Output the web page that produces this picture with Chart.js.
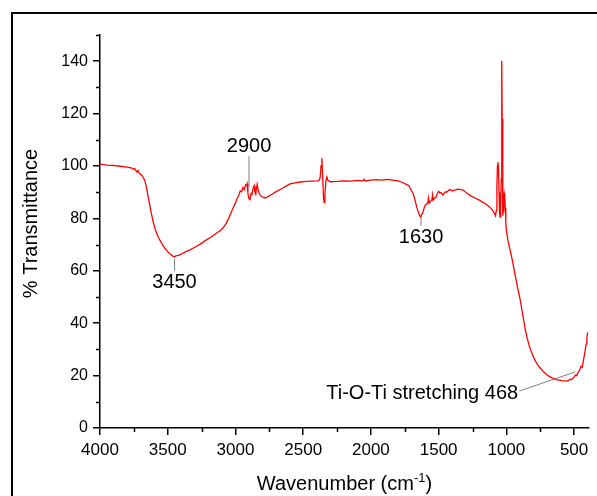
<!DOCTYPE html>
<html>
<head>
<meta charset="utf-8">
<script src="https://cdn.jsdelivr.net/npm/chart.js@4"></script>
<style>
  html, body { margin: 0; padding: 0; background: #fff; overflow: hidden; }
  #frame { position: absolute; left: 11px; top: 12px; width: 700px; height: 700px; border: 2.5px solid #000; }
  #wrap { position: absolute; left: 0; top: 0; width: 597px; height: 496px; }
</style>
</head>
<body>
<div id="frame"></div>
<div id="wrap"><canvas id="ftir"></canvas></div>
<script>
// wavenumber (cm-1) and % transmittance
const wavenumber = [
  4000, 3950, 3900, 3850, 3800, 3770, 3756, 3745, 3735, 3727, 3720, 3710, 3700, 3690, 3682, 3670, 3660, 3653,
  3640, 3625, 3609, 3590, 3570, 3542, 3520, 3500, 3480, 3461, 3450, 3440, 3420, 3400, 3370, 3335, 3300, 3260,
  3220, 3180, 3140, 3110, 3092, 3070, 3050, 3030, 3010, 2995, 2985, 2975, 2965, 2955, 2945, 2935, 2925, 2918,
  2914, 2908, 2900, 2892, 2885, 2878, 2870, 2862, 2856, 2850, 2845, 2840, 2833, 2825, 2812, 2796, 2780, 2760,
  2730, 2700, 2660, 2620, 2597, 2560, 2520, 2480, 2440, 2400, 2385, 2375, 2368, 2362, 2357, 2350, 2345, 2340,
  2332, 2325, 2318, 2300, 2250, 2200, 2150, 2100, 2060, 2050, 2040, 2000, 1960, 1920, 1880, 1840, 1800, 1770,
  1740, 1720, 1700, 1690, 1680, 1670, 1660, 1650, 1640, 1632, 1625, 1618, 1610, 1600, 1590, 1580, 1575, 1570,
  1560, 1550, 1545, 1540, 1530, 1520, 1510, 1500, 1490, 1480, 1470, 1460, 1450, 1440, 1430, 1420, 1410, 1400,
  1380, 1360, 1340, 1320, 1300, 1280, 1260, 1240, 1220, 1200, 1180, 1160, 1140, 1120, 1100, 1090, 1080, 1075,
  1070, 1066, 1062, 1058, 1054, 1050, 1046, 1042, 1038, 1035, 1033, 1031, 1028, 1025, 1022, 1019, 1016, 1012,
  1008, 1004, 1000, 990, 975, 960, 945, 930, 915, 900, 885, 870, 860, 845, 830, 810, 790, 770,
  750, 730, 710, 690, 670, 650, 630, 610, 590, 570, 555, 540, 530, 520, 510, 500, 490, 480,
  470, 460, 450, 440, 432, 425, 418, 412, 406, 400
];
const transmittance = [
  100.7, 100.3, 100.2, 99.9, 99.6, 99.3, 98.8, 99.0, 98.2, 97.7, 98.3, 97.2, 96.8, 96.4, 95.8, 94.5, 92.5, 90.8,
  87.0, 83.0, 79.0, 75.5, 72.8, 70.3, 68.5, 67.3, 66.3, 65.6, 65.3, 65.7, 65.9, 66.4, 67.2, 68.0, 69.0, 70.2,
  71.6, 72.9, 74.3, 75.5, 76.3, 78.0, 80.0, 82.5, 84.8, 86.5, 88.0, 88.8, 90.5, 90.2, 91.8, 91.0, 92.8, 92.5,
  93.2, 89.5, 87.5, 87.2, 89.5, 89.2, 91.5, 92.5, 90.0, 89.2, 91.5, 93.0, 91.0, 89.5, 88.5, 88.0, 87.8, 88.3,
  89.2, 90.2, 91.3, 92.5, 93.2, 93.6, 93.9, 94.1, 94.2, 94.3, 94.4, 95.5, 100.0, 103.0, 97.0, 88.0, 86.0, 89.0,
  94.5, 95.8, 94.5, 94.0, 94.1, 94.3, 94.2, 94.5, 94.3, 94.9, 94.3, 94.6, 94.8, 94.6, 94.9, 94.6, 94.3, 93.8,
  93.0, 92.5, 90.5, 89.8, 88.0, 86.0, 84.0, 82.5, 81.0, 80.5, 81.5, 82.0, 83.5, 85.0, 85.5, 86.0, 87.8, 85.8,
  86.5, 87.0, 89.0, 87.0, 87.8, 88.0, 89.5, 90.3, 89.7, 89.8, 88.9, 89.5, 90.2, 90.0, 90.5, 91.0, 90.8, 90.5,
  90.8, 91.2, 91.0, 90.8, 90.0, 89.2, 88.5, 88.0, 87.5, 87.0, 86.3, 85.8, 85.0, 84.2, 83.0, 82.0, 81.0, 83.0,
  92.0, 100.0, 101.5, 99.0, 90.0, 82.0, 80.5, 84.0, 95.0, 120.0, 140.2, 118.0, 90.0, 81.0, 83.0, 88.0, 89.5, 88.0,
  84.0, 79.0, 75.5, 72.0, 68.5, 65.0, 61.0, 57.0, 53.0, 49.5, 45.0, 40.5, 37.4, 34.0, 31.2, 28.3, 26.0, 24.2,
  22.9, 21.7, 20.7, 19.9, 19.3, 18.8, 18.5, 18.3, 18.1, 18.0, 17.9, 18.2, 18.6, 18.4, 19.0, 19.5, 20.2, 20.0,
  21.3, 22.0, 23.5, 23.2, 25.5, 27.5, 29.5, 32.0, 34.0, 36.5
];

const xMajorTicks = [4000, 3500, 3000, 2500, 2000, 1500, 1000, 500];
const xMinorTicks = [3750, 3250, 2750, 2250, 1750, 1250, 750];
const yMajorTicks = [0, 20, 40, 60, 80, 100, 120, 140];
const yMinorTicks = [10, 30, 50, 70, 90, 110, 130, 150];

// band labels: text, leader line start/end and text anchor in data units
const bandLabels = [
  { text: '3450', line: [[3450, 64.6], [3450, 60.0]], at: [3450, 55.4], align: 'center' },
  { text: '2900', line: [[2900, 103.8], [2900, 92.0]], at: [2900, 107.4], align: 'center' },
  { text: '1630', line: [[1630, 80.2], [1630, 77.2]], at: [1630, 72.8], align: 'center' },
  { text: 'Ti-O-Ti stretching 468', line: [[905, 14.1], [492, 21.4]], at: [913, 13.0], align: 'right' }
];

const FONT = '"Liberation Sans", Arial, sans-serif';

const extras = {
  id: 'extras',
  afterDraw(chart) {
    const { ctx, scales: { x, y }, chartArea } = chart;
    ctx.save();
    // minor ticks
    ctx.strokeStyle = '#000';
    ctx.lineWidth = 1.5;
    ctx.beginPath();
    xMinorTicks.forEach(v => {
      const px = Math.round(x.getPixelForValue(v)) + 0.5;
      ctx.moveTo(px, chartArea.bottom);
      ctx.lineTo(px, chartArea.bottom + 4);
    });
    yMinorTicks.forEach(v => {
      const py = Math.round(y.getPixelForValue(v)) + 0.5;
      ctx.moveTo(chartArea.left, py);
      ctx.lineTo(chartArea.left - 4, py);
    });
    ctx.stroke();

    // leader lines
    ctx.strokeStyle = '#7f7f7f';
    ctx.lineWidth = 1;
    bandLabels.forEach(b => {
      ctx.beginPath();
      ctx.moveTo(x.getPixelForValue(b.line[0][0]), y.getPixelForValue(b.line[0][1]));
      ctx.lineTo(x.getPixelForValue(b.line[1][0]), y.getPixelForValue(b.line[1][1]));
      ctx.stroke();
    });

    // band label text
    ctx.fillStyle = '#000';
    ctx.font = '20px ' + FONT;
    ctx.textBaseline = 'middle';
    bandLabels.forEach(b => {
      ctx.textAlign = b.align;
      ctx.fillText(b.text, x.getPixelForValue(b.at[0]), y.getPixelForValue(b.at[1]));
    });

    // y axis title
    ctx.save();
    ctx.translate(31, (chartArea.top + chartArea.bottom) / 2 - 8);
    ctx.rotate(-Math.PI / 2);
    ctx.textAlign = 'center';
    ctx.font = '20px ' + FONT;
    ctx.fillText('% Transmittance', 0, 0);
    ctx.restore();

    // x axis title with superscript
    ctx.textBaseline = 'alphabetic';
    ctx.textAlign = 'left';
    const main = 'Wavenumber (cm';
    const sup = '-1';
    ctx.font = '20px ' + FONT;
    const wMain = ctx.measureText(main).width;
    const wClose = ctx.measureText(')').width;
    ctx.font = '13px ' + FONT;
    const wSup = ctx.measureText(sup).width;
    const total = wMain + wSup + wClose;
    let tx = (chartArea.left + chartArea.right) / 2 - total / 2;
    const base = 490;
    ctx.font = '20px ' + FONT;
    ctx.fillText(main, tx, base);
    tx += wMain;
    ctx.font = '13px ' + FONT;
    ctx.fillText(sup, tx, base - 8);
    tx += wSup;
    ctx.font = '20px ' + FONT;
    ctx.fillText(')', tx, base);
    ctx.restore();
  }
};

new Chart(document.getElementById('ftir'), {
  type: 'line',
  data: {
    labels: wavenumber,
    datasets: [{
      data: wavenumber.map((w, i) => ({ x: w, y: transmittance[i] })),
      borderColor: '#ff0000',
      borderWidth: 1.3,
      pointRadius: 0,
      tension: 0,
      fill: false
    }]
  },
  options: {
    responsive: true,
    maintainAspectRatio: false,
    animation: false,
    layout: { padding: { left: 0, top: 35, right: 8, bottom: 0 } },
    plugins: { legend: { display: false }, tooltip: { enabled: false } },
    scales: {
      x: {
        type: 'linear',
        reverse: true,
        min: 390,
        max: 4000,
        afterBuildTicks: s => { s.ticks = xMajorTicks.map(v => ({ value: v })); },
        afterFit: s => { s.height = 68; s.paddingLeft = 0; s.paddingRight = 0; },
        grid: { drawOnChartArea: false, drawTicks: true, tickLength: 7, color: '#000', lineWidth: 1.5 },
        border: { display: true, color: '#000', width: 1.5 },
        ticks: {
          color: '#000', font: { family: FONT, size: 17 }, padding: 5, maxRotation: 0, autoSkip: false,
          callback: v => String(v)
        }
      },
      y: {
        min: 0,
        max: 150,
        afterBuildTicks: s => { s.ticks = yMajorTicks.map(v => ({ value: v })); },
        afterFit: s => { s.width = 100; },
        grid: { drawOnChartArea: false, drawTicks: true, tickLength: 7, color: '#000', lineWidth: 1.5 },
        border: { display: true, color: '#000', width: 1.5 },
        ticks: { color: '#000', font: { family: FONT, size: 16 }, padding: 5, callback: v => String(v) }
      }
    }
  },
  plugins: [extras]
});
</script>
</body>
</html>
